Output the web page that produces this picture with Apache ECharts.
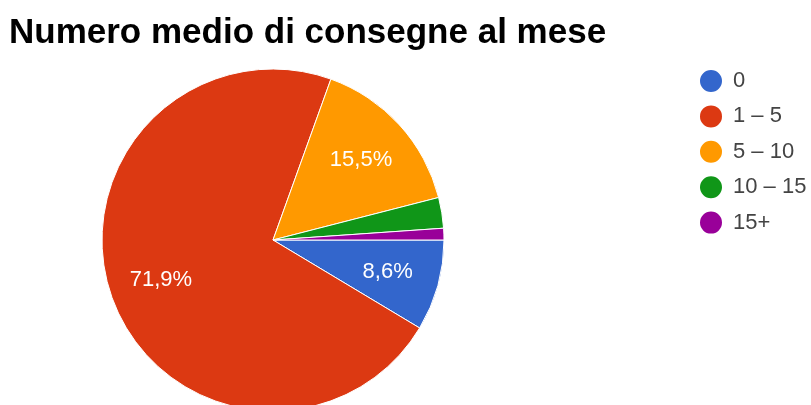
<!DOCTYPE html>
<html>
<head>
<meta charset="utf-8">
<script src="https://cdn.jsdelivr.net/npm/echarts@6/dist/echarts.min.js"></script>
<style>
  html, body { margin: 0; padding: 0; background: #fff; }
  #chart { width: 811px; height: 405px; }
</style>
</head>
<body>
<div id="chart"></div>
<script>
// Monthly delivery buckets and their share of answers (%)
const categories = ['0', '1 – 5', '5 – 10', '10 – 15', '15+'];
const shares = [8.6, 71.9, 15.5, 2.9, 1.1];
const colors = ['#3366cc', '#dc3912', '#ff9900', '#109618', '#990099'];

const FONT = '"Liberation Sans", Arial, sans-serif';
const center = [273, 240];
const outer = 171;

const pieData = categories.map((name, i) => ({ name, value: shares[i] }));

// Italian decimal comma; tiny slices stay unlabeled
function pct(p) {
  return p.value >= 5 ? p.value.toFixed(1).replace('.', ',') + '%' : '';
}

const chart = echarts.init(document.getElementById('chart'), null, { renderer: 'canvas' });
chart.setOption({
  animation: false,
  color: colors,
  title: {
    text: 'Numero medio di consegne al mese',
    left: 9,
    top: 16,
    padding: 0,
    textStyle: { fontFamily: FONT, fontSize: 35, fontWeight: 'bold', color: '#000' }
  },
  legend: {
    orient: 'vertical',
    left: 698,
    top: 68,
    padding: 0,
    icon: 'circle',
    itemWidth: 34,
    itemHeight: 24,
    itemGap: 9.4,
    data: categories,
    textStyle: { fontFamily: FONT, fontSize: 22, lineHeight: 22, color: '#444' }
  },
  series: [
    {
      type: 'pie',
      center: center,
      radius: [0, outer],
      startAngle: 0,
      clockwise: true,
      avoidLabelOverlap: false,
      itemStyle: { borderColor: '#fff', borderWidth: 1 },
      label: { show: false },
      labelLine: { show: false },
      emphasis: { disabled: true },
      data: pieData
    },
    {
      // transparent ring that only carries the percentage labels
      type: 'pie',
      center: center,
      radius: [61, outer],
      startAngle: 0,
      clockwise: true,
      silent: true,
      avoidLabelOverlap: false,
      itemStyle: { color: 'rgba(0,0,0,0)', borderWidth: 0 },
      label: {
        show: true,
        position: 'inside',
        formatter: pct,
        fontFamily: FONT,
        fontSize: 22,
        color: '#fff'
      },
      labelLine: { show: false },
      emphasis: { disabled: true },
      legendHoverLink: false,
      data: pieData
    }
  ]
});
</script>
</body>
</html>
